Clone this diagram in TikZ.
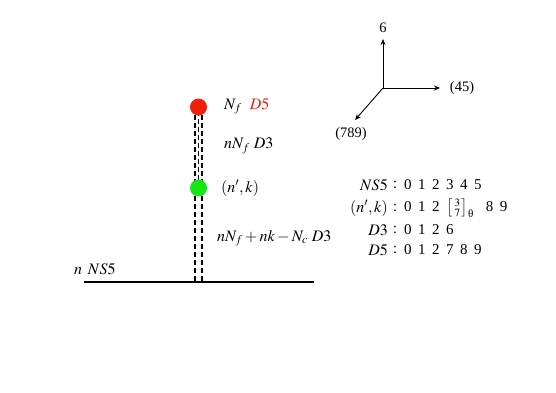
\documentclass[tikz,border=0pt]{standalone}
\usepackage{amsmath}
\usepackage{mathptmx}
\usepackage{fontspec}
\setmainfont{Liberation Serif}
\usetikzlibrary{arrows.meta}
\definecolor{dotred}{RGB}{240,30,10}
\definecolor{dotgreen}{RGB}{20,230,20}
\newcommand{\dgap}{\hspace{6.5pt}}
\begin{document}
\begin{tikzpicture}[x=1pt,y=-1pt,
  font=\fontsize{16}{18}\selectfont,
  dot/.style={circle, minimum size=17pt, inner sep=0pt},
  dthree/.style={line width=1.8pt, dash pattern=on 4.5pt off 3.5pt},
  brane/.style={line width=2.8pt},
  axis/.style={line width=0.9pt, -{Stealth[length=6pt,width=5pt]}},
  lbl/.style={inner sep=0pt},
  axlbl/.style={inner sep=0pt, font=\fontsize{14.5}{17}\selectfont},
  digits/.style={inner sep=0pt, anchor=west, font=\fontsize{15}{17}\selectfont}]
\useasboundingbox (0,0) rectangle (556,392);
% positions
\coordinate (r) at (198.5,107);
\coordinate (g) at (198.5,188);
\coordinate (b) at (198.5,282);
\coordinate (nsL) at (84,282);
\coordinate (nsR) at (314,282);
% D3 stacks
\draw[dthree] ([xshift=-3.3pt]r) -- ([xshift=-3.3pt]g);
\draw[dthree] ([xshift=3.3pt]r) -- ([xshift=3.3pt]g);
\draw[dthree, dash phase=4pt] (r) -- (g);
\draw[dthree] ([xshift=-3.3pt]g) -- ([xshift=-3.3pt]b);
\draw[dthree] ([xshift=3.3pt]g) -- ([xshift=3.3pt]b);
% NS5
\draw[brane] (nsL) -- (nsR);
\node[lbl, anchor=south west] (nslabel) at (74,275) {$n\ \,NS5$};
% dots
\node[dot, fill=dotred] (red) at (r) {};
\node[dot, fill=dotgreen] (green) at (g) {};
% labels
\node[lbl, anchor=west] (l1) at (224,106) {$N_f$\hspace{8pt}\textcolor{dotred}{$D5$}};
\node[lbl, anchor=west] (l2) at (224,146) {$nN_f\ D3$};
\node[lbl, anchor=west] (l3) at (221,188) {$(n',k)$};
\node[lbl, anchor=west] (l4) at (217,238) {$nN_f+nk-N_c\ D3$};
% axes
\coordinate (o) at (383,88);
\coordinate (t6) at (383,39);
\coordinate (t45) at (440,88);
\coordinate (t789) at (355,120);
\draw[axis] (o) -- (t6);
\draw[axis] (o) -- (t45);
\draw[axis] (o) -- (t789);
\node[axlbl] (a6) at (383,28) {6};
\node[axlbl] (a45) at (462,88) {(45)};
\node[axlbl] (a789) at (351,134) {(789)};
% table
\node[lbl, anchor=east] (k1) at (388,185) {$NS5$};
\node[lbl] (c1) at (395,185) {$:$};
\node[digits] (v1) at (404,185) {0\dgap1\dgap2\dgap3\dgap4\dgap5};
\node[lbl, anchor=east] (k2) at (388,208) {$(n',k)$};
\node[lbl] (c2) at (395,208) {$:$};
\node[digits] (v2) at (404,208) {0\dgap1\dgap2\hspace{7pt}$\left[\begin{smallmatrix}3\\7\end{smallmatrix}\right]_{\text{θ}}$\hspace{12pt}8\dgap9};
\node[lbl, anchor=east] (k3) at (388,230) {$D3$};
\node[lbl] (c3) at (395,230) {$:$};
\node[digits] (v3) at (404,230) {0\dgap1\dgap2\dgap6};
\node[lbl, anchor=east] (k4) at (388,250) {$D5$};
\node[lbl] (c4) at (395,250) {$:$};
\node[digits] (v4) at (404,250) {0\dgap1\dgap2\dgap7\dgap8\dgap9};
\end{tikzpicture}
\end{document}
